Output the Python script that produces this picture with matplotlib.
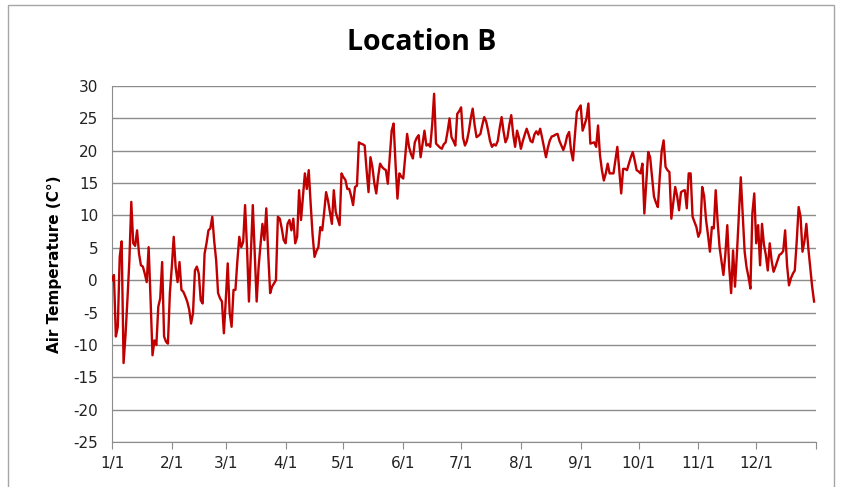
import numpy as np
import matplotlib
matplotlib.use("Agg")
import matplotlib.pyplot as plt
from matplotlib.patches import Rectangle

plt.rcParams['axes.unicode_minus'] = False

# Daily air temperature (C), one list per month
jan = [0, 0.8, -8.7, -7.2, 3.6, 6.0, -12.8, -8.5, -3, 3, 12.1, 5.7, 5.3, 7.7, 4.1, 2.3,
       2.1, 1.0, -0.3, 5.1, -3, -11.6, -9.3, -10, -4.1, -2.8, 2.8, -8.7, -9.5, -9.8, -2]
feb = [2, 6.7, 2, -0.3, 2.8, -1.5, -1.8, -2.5, -3.3, -4.5, -6.7, -5.1, 1.5, 2.1, 1.0,
       -3.1, -3.6, 4.1, 5.7, 7.7, 8.0, 9.8, 6, 3.1, -2, -2.8, -3.3, -8.2]
mar = [-3, 2.6, -5, -7.2, -1.5, -1.5, 3, 6.7, 5.1, 5.9, 11.6, 5, -3.3, 4, 11.6, 4, -3.3,
       2, 5.5, 8.7, 6.2, 11.1, 4, -2, -1, -0.5, 0, 9.8, 9.5, 8, 6.2]
apr = [5.7, 8.7, 9.3, 7.7, 9.5, 5.7, 6.7, 13.9, 9.3, 13, 16.5, 14.1, 17, 11.8, 7, 3.6,
       4.5, 5.1, 8.2, 7.7, 10.5, 13.6, 12.3, 10.5, 8.7, 13.9, 10.5, 9.5, 8.5, 16.5]
may = [15.9, 15.5, 14.1, 14.1, 13, 11.6, 14.4, 14.6, 21.3, 21.1, 21, 20.8, 17, 13.6, 19,
       17.5, 15, 13.4, 16, 18, 17.5, 17.2, 17, 14.9, 19, 23.1, 24.2, 18, 12.6, 16.5, 16]
jun = [15.7, 19, 22.6, 20.6, 19.5, 18.8, 21.3, 22, 22.4, 19, 21, 23.1, 20.8, 21, 20.6, 24,
       28.8, 21.1, 20.8, 20.5, 20.3, 21, 21.3, 23, 25, 22.1, 21.5, 20.8, 25.7, 26.1]
jul = [26.7, 22, 20.8, 21.5, 23, 25, 26.5, 24, 22.1, 22.3, 22.6, 24, 25.2, 24.5, 23.1,
       21.5, 20.6, 21, 20.8, 21.5, 23.5, 25.2, 23, 21.3, 22, 24, 25.5, 22.5, 20.6, 23.1, 22]
aug = [20.3, 21.5, 22.5, 23.4, 22.5, 21.5, 21.3, 22.5, 23, 22.5, 23.4, 22, 20.5, 19, 20.5,
       21.6, 22.2, 22.3, 22.5, 22.6, 21.5, 20.8, 20.1, 21, 22.3, 22.9, 20, 18.5, 22.4, 26, 26.5]
sep = [27, 23.1, 24, 25, 27.3, 21.1, 21.2, 21.3, 20.6, 23.9, 19.3, 17, 15.4, 16.5, 18,
       16.5, 16.5, 16.5, 18.5, 20.6, 17, 13.4, 17.2, 17.2, 17, 18, 19, 19.8, 18.5, 17]
oct_ = [16.8, 16.5, 18, 10.3, 15, 19.8, 19, 16, 12.9, 12, 11.3, 16, 20, 21.6, 17.5, 17,
        16.7, 9.5, 12, 14.4, 13, 10.8, 13.6, 13.8, 13.9, 11.1, 16.5, 16.5, 9.8, 9, 8.2]
nov = [6.7, 7.5, 14.4, 13, 9.3, 7, 4.4, 8.2, 8, 13.9, 9, 5.1, 3, 0.8, 4, 8.5, 2, -2, 4.6,
       -1, 4.1, 10, 15.9, 10.3, 4.4, 2, 0.5, -1.3, 10.3, 13.4]
dec = [5.7, 8.5, 2.3, 8.7, 5.5, 3.9, 1.5, 5.7, 3, 1.3, 2.1, 3, 3.9, 4.1, 4.5, 7.7, 2.3,
       -0.8, 0.3, 1, 1.5, 6, 11.3, 9.8, 4.4, 6, 8.7, 5, 2, -1, -3.3]

months = [jan, feb, mar, apr, may, jun, jul, aug, sep, oct_, nov, dec]
month_labels = ['1/1', '2/1', '3/1', '4/1', '5/1', '6/1', '7/1', '8/1', '9/1', '10/1', '11/1', '12/1']

temps = np.concatenate([np.array(m, dtype=float) for m in months])
days = np.arange(len(temps))
month_starts = np.cumsum([0] + [len(m) for m in months])  # 0 .. 365

fig = plt.figure(figsize=(8.41, 4.87), dpi=100)

# chart frame (Excel style border)
fig.patches.append(Rectangle((8 / 841, -0.05), 826 / 841, 1.05 - 5 / 487,
                             transform=fig.transFigure, fill=False,
                             edgecolor='#a6a6a6', linewidth=1.0))

ax = fig.add_axes([112 / 841, 1 - 442 / 487, (816 - 112) / 841, (442 - 86) / 487])

ax.plot(days, temps, color='#c00000', linewidth=1.7, zorder=3)

ax.set_xlim(0, 365)
ax.set_ylim(-25, 30)
ax.set_yticks(np.arange(-25, 31, 5))
ax.set_xticks(month_starts)
ax.set_xticklabels(month_labels + [''])

ax.grid(axis='y', color='#8c8c8c', linewidth=1.0)
ax.set_axisbelow(True)
for side in ['top', 'right']:
    ax.spines[side].set_visible(False)
ax.spines['left'].set_color('#8c8c8c')
ax.spines['bottom'].set_color('#8c8c8c')
ax.tick_params(axis='y', length=0, pad=10, labelsize=11, labelcolor='#222222')
ax.tick_params(axis='x', length=5, color='#8c8c8c', pad=5, labelsize=11, labelcolor='#222222')

ax.set_ylabel('Air Temperature (C°)', fontsize=11, fontweight='bold', labelpad=8)

fig.text(422 / 841, 1 - 42 / 487, 'Location B', ha='center', va='center',
         fontsize=20.5, fontweight='bold', family='Open Sans')

fig.savefig('out.png', dpi=100)
